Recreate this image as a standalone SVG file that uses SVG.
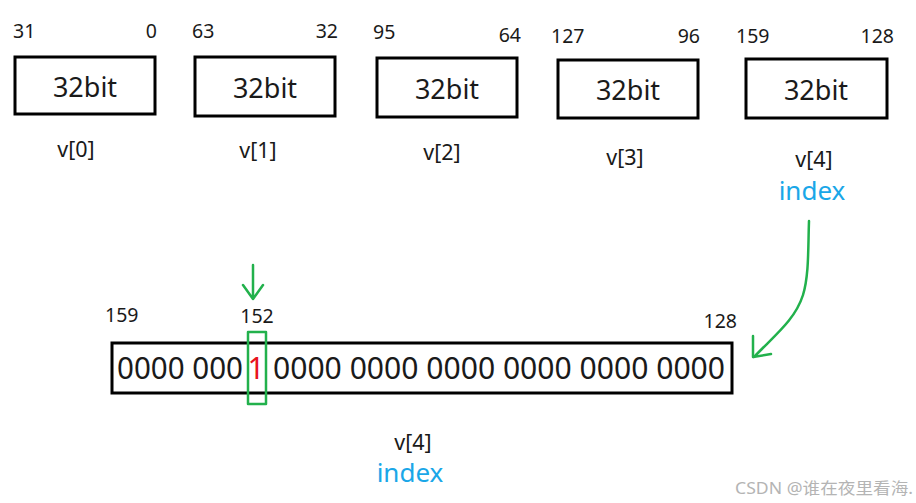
<svg xmlns="http://www.w3.org/2000/svg" width="916" height="503" viewBox="0 0 916 503">
<style>
text{font-family:"Noto Sans","Open Sans","DejaVu Sans",sans-serif;fill:#1a1a1a}
.box{fill:#fff;stroke:#000;stroke-width:3}
.bit{font-size:27px;text-anchor:middle}
.num{font-size:19.5px}
.lbl{font-size:21.5px;text-anchor:middle}
.idx{font-size:26px;text-anchor:middle;fill:#1aa7e8}
.g{fill:none;stroke:#22b14c;stroke-width:2.5;stroke-linecap:round;stroke-linejoin:round}
.big{font-size:30px}
</style>
<rect width="916" height="503" fill="#fff"/>
<g id="v0">
<rect class="box" x="15" y="57" width="140" height="57"/>
<text class="bit" x="85" y="97">32bit</text>
<text class="num" x="13" y="38">31</text>
<text class="num" x="157" y="38" text-anchor="end">0</text>
<text class="lbl" x="76" y="157">v[0]</text>
</g>
<g id="v1">
<rect class="box" x="195" y="57" width="140" height="59"/>
<text class="bit" x="265" y="98">32bit</text>
<text class="num" x="192" y="38">63</text>
<text class="num" x="338" y="38" text-anchor="end">32</text>
<text class="lbl" x="258" y="158">v[1]</text>
</g>
<g id="v2">
<rect class="box" x="377" y="58" width="140" height="59"/>
<text class="bit" x="447" y="99">32bit</text>
<text class="num" x="373" y="39">95</text>
<text class="num" x="521" y="42" text-anchor="end">64</text>
<text class="lbl" x="442" y="160">v[2]</text>
</g>
<g id="v3">
<rect class="box" x="558" y="60" width="140" height="58"/>
<text class="bit" x="628" y="100">32bit</text>
<text class="num" x="551" y="43">127</text>
<text class="num" x="700" y="43" text-anchor="end">96</text>
<text class="lbl" x="625" y="165">v[3]</text>
</g>
<g id="v4">
<rect class="box" x="746" y="59" width="141" height="59"/>
<text class="bit" x="816" y="100">32bit</text>
<text class="num" x="736" y="43">159</text>
<text class="num" x="894" y="43" text-anchor="end">128</text>
<text class="lbl" x="814" y="167">v[4]</text>
<text class="idx" x="812" y="200">index</text>
</g>
<g id="v4-detail">
<rect class="box" x="112" y="343" width="620" height="50"/>
<text class="big" x="117" y="379" textLength="126" lengthAdjust="spacingAndGlyphs">0000 000</text>
<text class="big" x="256" y="379" text-anchor="middle" style="fill:#e8141c">1</text>
<text class="big" x="273" y="379" textLength="452" lengthAdjust="spacingAndGlyphs">0000 0000 0000 0000 0000 0000</text>
<rect x="248" y="332" width="18" height="72" class="g"/>
<text class="num" x="105" y="322">159</text>
<text class="num" x="257" y="323" text-anchor="middle">152</text>
<text class="num" x="737" y="328" text-anchor="end">128</text>
<text class="lbl" x="413" y="450">v[4]</text>
<text class="idx" x="410" y="482">index</text>
</g>
<g id="connectors">
<path class="g" d="M253 265 V299 M243 285 L253 299 L263 285"/>
<path class="g" d="M809 221 C808 250 809 275 803 295 C795 320 775 335 754 357"/>
<path class="g" d="M753 336 L753 357 L771 354"/>
</g>
<text x="735" y="494" textLength="178" lengthAdjust="spacingAndGlyphs" style="font-size:16px;fill:#b4b4b4;font-family:'Noto Sans','Noto Sans CJK SC',sans-serif">CSDN @谁在夜里看海.</text>
</svg>
